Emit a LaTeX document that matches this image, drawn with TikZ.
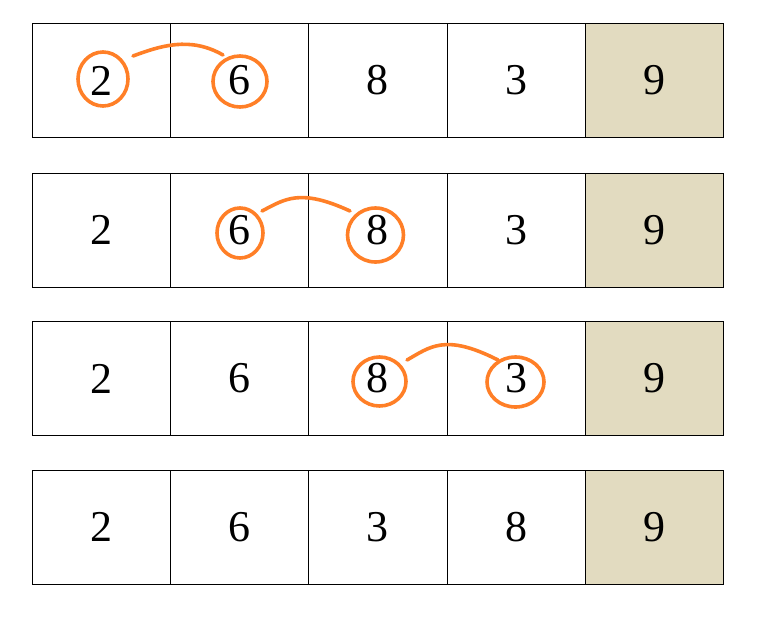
\documentclass[tikz,border=0pt]{standalone}
\usepackage{fontspec}
\setmainfont{Liberation Serif}
\usetikzlibrary{shapes.geometric}
\definecolor{mark}{HTML}{FF7F27}
\definecolor{beige}{HTML}{E2DBC0}
\begin{document}
\begin{tikzpicture}[x=1pt,y=-1pt,
  cell/.style={draw=black,line width=0.8pt,minimum width=138.3pt,minimum height=114pt,inner sep=0pt,outer sep=0pt,font=\fontsize{44}{44}\selectfont},
  last/.style={cell,fill=beige},
  ring/.style={draw=mark,line width=3.6pt,ellipse,inner sep=0pt,outer sep=0pt},
  swaparc/.style={draw=mark,line width=3.6pt,line cap=round}]
\useasboundingbox (0,0) rectangle (775,632);
\foreach \r/\y/\a/\b/\c/\d in {1/80.5/2/6/8/3, 2/230/2/6/8/3, 3/378.5/2/6/8/3, 4/527/2/6/3/8}{
  \node[cell] (r\r c1) at (101.2,\y) {\a};
  \node[cell] (r\r c2) at (239.5,\y) {\b};
  \node[cell] (r\r c3) at (377.8,\y) {\c};
  \node[cell] (r\r c4) at (516.1,\y) {\d};
  \node[last] (r\r c5) at (654.4,\y) {9};
}
% row 1
\node[ring,minimum width=50pt,minimum height=54pt] (a1) at (103,79) {};
\node[ring,minimum width=54pt,minimum height=51pt] (b1) at (240,81.5) {};
\coordinate (a1e) at (133,56);
\coordinate (b1e) at (223,55);
\draw[swaparc] (a1e) .. controls (160,46) and (190,36) .. (b1e);
% row 2
\node[ring,minimum width=46pt,minimum height=50pt] (a2) at (240,233) {};
\node[ring,minimum width=56pt,minimum height=54pt] (b2) at (375.5,235) {};
\coordinate (a2e) at (262,211);
\coordinate (b2e) at (350,211);
\draw[swaparc] (a2e) .. controls (285,199) and (300,188) .. (b2e);
% row 3
\node[ring,minimum width=53pt,minimum height=49pt] (a3) at (379.5,381.5) {};
\node[ring,minimum width=57pt,minimum height=50pt] (b3) at (515.5,382) {};
\coordinate (a3e) at (407,360);
\coordinate (b3e) at (498,360);
\draw[swaparc] (a3e) .. controls (430,347) and (445,333) .. (b3e);
\end{tikzpicture}
\end{document}
